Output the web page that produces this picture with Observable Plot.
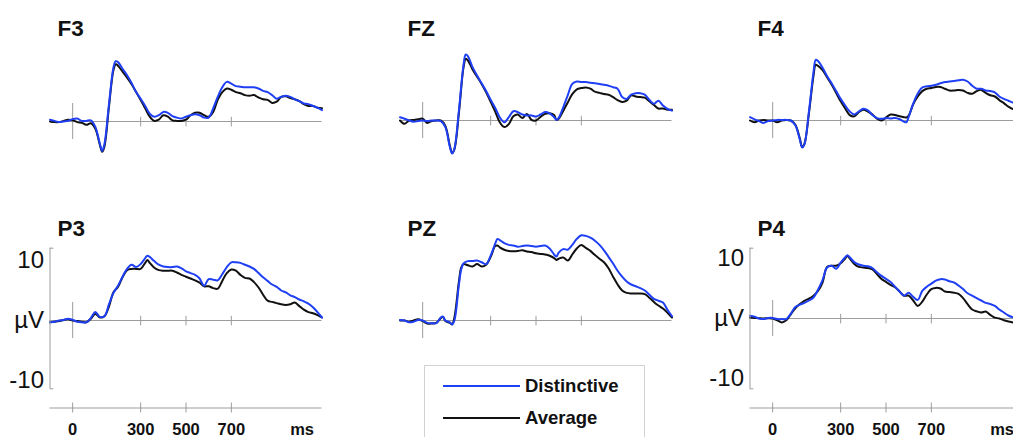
<!DOCTYPE html>
<html>
<head>
<meta charset="utf-8">
<script src="https://cdn.jsdelivr.net/npm/d3@7"></script>
<script src="https://cdn.jsdelivr.net/npm/@observablehq/plot@0.6"></script>
<style>
  html, body { margin: 0; padding: 0; background: #fff; }
  #chart { position: relative; width: 1013px; height: 437px; overflow: hidden;
           font-family: "Liberation Sans", Arial, sans-serif; }
  #chart svg { position: absolute; }
  .legend-box { position: absolute; left: 424px; top: 365px; width: 221px; height: 90px;
                border: 1px solid #d2d2d2; box-sizing: border-box; background: #fff; }
  .legend-key { position: absolute; left: 443px; width: 77px; height: 2px; }
  .legend-label { position: absolute; left: 525px; height: 22px; line-height: 22px;
                  font-size: 18.5px; font-weight: bold; color: #111; white-space: nowrap; }
</style>
</head>
<body>
<div id="chart"></div>
<script>
// Sampling grid in ms (every 20 ms), with extra samples at sharp peaks per channel
const baseTimes = [-100,-80,-60,-40,-20,0,20,40,60,80,100,120,140,160,180,200,220,240,260,280,
  300,320,340,360,380,400,420,440,460,480,500,520,540,560,580,600,620,640,660,680,700,720,740,
  760,780,800,820,840,860,880,900,920,940,960,980,1000,1020,1040,1060,1080,1100];

const channels = ["F3", "FZ", "F4", "P3", "PZ", "P4"];
const seriesNames = ["Distinctive", "Average"];

const extraTimesF3 = [130, 190];
const extraTimesFZ = [130, 190, 590];
const extraTimesF4 = [130, 190, 590];
const extraTimesP3 = [330];
const extraTimesPZ = [90, 130, 170, 330, 590];
const extraTimesP4 = [330];

// Grand-average amplitudes in µV
const distinctiveF3 = [0.3,0.1,-0.1,0,0.1,0.4,0.5,0.1,0.1,0.2,-0.9,-3.7,-4.9,-3.8,2.8,9.0,10.05,9.9,8.8,7.7,
  6.4,4.9,3.8,2.6,1.3,0.8,1.05,1.6,1.45,0.9,0.65,0.5,0.8,1.05,1.2,1.05,0.65,0.65,2.2,4.1,5.7,6.6,6.3,
  5.9,5.8,5.7,5.7,5.7,5.5,5.1,4.9,4.4,3.8,4.1,4.3,4.1,3.7,3.4,3.0,2.9,2.6,2.3,1.9];
const averageF3 = [0,-0.1,-0.1,0.1,0.3,0.2,-0.1,-0.2,-0.55,-0.3,-1.2,-3.9,-5.05,-4.2,2.4,8.6,9.55,9.3,8.3,
  7.3,6.2,4.9,3.6,2.2,0.8,0.1,0.3,1.05,0.8,0.2,0.1,0.1,0.3,1.05,1.45,1.45,1.05,0.8,1.6,3.6,4.9,5.5,5.3,
  4.9,4.7,4.4,4.3,4.4,4.0,3.7,3.6,3.1,3.3,4.1,4.2,3.9,3.7,3.4,2.9,2.6,2.6,2.3,2.2];

const distinctiveFZ = [0.55,0.3,0.0,-0.2,-0.1,0.0,-0.1,0.0,0.0,-0.1,-1.1,-4.4,-5.5,-4.7,1.7,9.2,11.0,10.7,
  8.9,7.5,6.2,4.9,3.45,2.1,0.55,-0.3,0.55,1.55,1.4,1.0,0.85,0.85,0.65,1.0,1.4,1.2,0.55,0.1,0.45,2.2,4.2,
  6.1,6.5,6.4,6.4,6.3,6.2,6.1,5.95,5.8,5.55,5.3,3.9,3.6,4.3,4.55,4.55,4.3,3.45,2.8,3.3,2.5,1.95,1.65];
const averageFZ = [0.0,-0.55,0.0,0.1,0.2,0.3,-0.4,-0.1,0.0,0.0,-0.9,-4.2,-5.4,-4.8,1.3,8.8,10.3,10.0,8.5,
  7.3,6.1,4.7,3.1,1.5,-0.3,-1.1,-0.6,0.7,1.0,0.4,1.1,0.1,0.0,0.6,1.1,1.2,0.9,0.1,0.3,1.6,3.0,4.4,5.2,
  5.4,5.5,5.3,4.8,4.6,4.4,4.3,3.9,3.4,3.1,3.3,4.2,4.0,3.9,3.8,3.2,2.6,2.0,2.0,1.8,1.8];

const distinctiveF4 = [0.55,0.2,-0.1,-0.4,-0.1,0.0,0.1,0.1,0.1,0.0,-0.8,-3.2,-4.5,-4.0,1.5,8.0,10.1,9.9,
  8.8,7.4,6.2,4.9,3.6,2.5,1.5,1.0,1.5,1.95,1.7,0.9,0.4,0.3,0.4,0.35,0.4,0.2,-0.2,-0.3,0.6,2.8,4.5,5.5,
  5.7,5.8,5.95,6.2,6.4,6.5,6.6,6.7,6.8,6.5,5.8,5.3,5.3,5.0,4.9,4.7,4.0,3.6,3.3,3.0,2.8,2.6];
const averageF4 = [0.0,-0.3,0.0,0.1,0.0,0.0,-0.3,0.0,0.1,0.0,-0.7,-3.0,-4.4,-3.9,1.2,7.4,9.3,9.1,8.4,7.2,
  6.0,4.6,3.2,2.0,0.9,0.7,1.4,1.8,1.5,1.0,0.3,0.0,0.5,1.0,0.9,0.7,0.55,0.5,0.8,2.7,4.0,4.9,5.3,5.4,5.6,
  5.6,5.3,5.0,5.0,5.1,5.0,4.6,4.45,4.9,5.1,4.6,4.2,4.0,3.4,2.9,2.3,1.9,1.9,1.9];

const distinctiveP3 = [-0.3,-0.2,0.0,0.1,0.3,0.1,-0.2,-0.3,-0.3,0.4,1.4,0.6,0.7,2.7,4.6,5.8,7.3,8.6,9.3,
  8.9,9.4,10.4,10.8,10.6,9.9,9.3,9.0,8.9,8.9,9.0,8.7,8.2,7.9,7.6,7.0,5.8,6.9,6.8,6.7,7.7,8.9,9.7,9.7,
  9.6,9.3,9.0,8.6,7.9,7.2,6.6,6.0,5.6,5.0,4.7,4.2,3.9,3.5,3.2,2.8,2.2,1.4,0.5];
const averageP3 = [-0.3,-0.2,-0.1,0.1,0.2,0.0,-0.1,-0.2,-0.3,0.3,1.1,0.5,0.7,2.3,4.7,5.6,7.2,8.4,8.6,8.6,
  8.6,9.6,10.1,9.6,8.8,8.4,8.3,8.3,8.3,8.0,7.6,7.3,7.0,6.7,6.3,5.7,5.7,5.4,5.3,6.6,7.9,8.5,8.3,7.6,7.1,
  7.0,6.4,5.5,4.3,3.3,3.1,2.9,2.7,2.6,2.7,3.0,2.4,1.8,1.4,1.2,0.9,0.5];

const distinctivePZ = [0.1,0.0,-0.3,-0.2,0.1,0.0,-0.4,-0.45,-0.45,0.5,0.65,0.0,-0.3,-0.65,0.0,6.0,8.5,9.5,
  9.9,9.9,10.0,9.7,9.4,10.8,12.8,13.6,13.4,12.9,12.6,12.5,12.3,12.4,12.5,12.4,12.3,12.4,12.5,12.0,11.0,
  10.65,11.3,11.9,11.8,12.6,13.6,14.2,14.1,13.8,13.3,12.6,11.7,10.6,9.5,8.3,7.3,6.5,6.0,5.7,5.4,5.0,
  4.3,3.6,3.3,3.0,1.8,0.7];
const averagePZ = [0.0,0.0,-0.2,0.0,0.2,-0.1,-0.5,-0.5,-0.4,0.4,0.6,-0.1,-0.4,-0.65,0.5,6.5,8.8,9.4,9.2,
  9.0,9.4,9.0,9.3,10.6,12.4,12.5,12.2,11.8,11.6,11.55,11.6,11.7,11.5,11.4,11.2,11.1,11.0,10.8,10.4,10.1,
  10.3,10.5,10.0,11.0,12.0,12.6,12.1,11.6,10.9,10.3,9.7,8.7,7.3,6.0,5.0,4.6,4.5,4.5,4.5,4.4,3.8,3.1,
  2.5,2.0,1.3,0.5];

const distinctiveP4 = [0.45,0.3,0.0,-0.1,0.1,0.1,-0.1,-0.1,-0.1,0.8,1.9,2.3,2.6,3.0,3.5,4.8,6.4,8.5,8.8,
  8.3,9.3,10.2,10.55,10.2,9.4,9.0,8.8,8.7,8.4,7.7,7.1,6.6,6.1,5.3,4.5,3.8,4.3,3.6,3.1,4.6,5.3,5.8,6.3,
  6.55,6.5,6.2,6.0,5.5,4.9,4.2,3.8,3.4,3.0,2.6,2.4,2.1,1.5,1.0,0.5,0.2,0.0,-0.1];
const averageP4 = [0.15,0.1,0.05,0.0,0.05,0.0,-0.3,-0.65,-0.3,0.7,1.7,2.4,2.95,3.3,3.8,4.6,6.0,8.6,8.8,8.8,
  9.2,10.0,10.45,10.0,9.1,8.6,8.5,8.4,8.2,7.4,6.6,6.1,5.6,5.2,4.5,3.8,3.8,3.0,2.1,2.8,4.0,4.9,5.1,5.0,
  4.5,4.4,4.3,4.1,3.4,2.4,1.5,1.2,1.0,1.15,0.6,0.15,0.0,-0.3,-0.5,-0.65,-0.7,-0.7];

// Axis labelling
const timeTicks = [300, 500, 700];
const xTickTimes = [0, 300, 500, 700, 1012];
const xTickLabels = ["0", "300", "500", "700", "ms"];
const yTickValues = [10, 0, -10];
const yTickLabels = ["10", "µV", "-10"];

const COLORS = { Distinctive: "#1f3ff5", Average: "#111111" };
const GRAY = "#9c9c9c";
const FONT = "'Liberation Sans', Arial, sans-serif";

const channelData = {
  F3: { extra: extraTimesF3, Distinctive: distinctiveF3, Average: averageF3 },
  FZ: { extra: extraTimesFZ, Distinctive: distinctiveFZ, Average: averageFZ },
  F4: { extra: extraTimesF4, Distinctive: distinctiveF4, Average: averageF4 },
  P3: { extra: extraTimesP3, Distinctive: distinctiveP3, Average: averageP3 },
  PZ: { extra: extraTimesPZ, Distinctive: distinctivePZ, Average: averagePZ },
  P4: { extra: extraTimesP4, Distinctive: distinctiveP4, Average: averageP4 }
};

// Panel grid: 3 columns x 2 rows; zero = pixel row of 0 µV inside its panel
const panelLayout = {
  F3: { col: 0, row: 0, zero: 121, axes: false },
  FZ: { col: 1, row: 0, zero: 120, axes: false },
  F4: { col: 2, row: 0, zero: 120, axes: false },
  P3: { col: 0, row: 1, zero: 120, axes: true },
  PZ: { col: 1, row: 1, zero: 120, axes: false },
  P4: { col: 2, row: 1, zero: 118, axes: true }
};
const PANEL_W = 350, ROW_TOP = [0, 200], ROW_H = [200, 237], PX_PER_UV = 6;

function records(name) {
  const d = channelData[name];
  const times = [...baseTimes, ...d.extra].sort((a, b) => a - b);
  const out = {};
  for (const s of seriesNames) {
    if (d[s].length !== times.length) throw new Error(`${name} ${s}: ${d[s].length} values, ${times.length} times`);
    out[s] = times.map((t, i) => ({ t, v: d[s][i], series: s }));
  }
  return out;
}

function panel(name) {
  const L = panelLayout[name];
  const h = ROW_H[L.row];
  const uv = px => (L.zero - px) / PX_PER_UV; // pixel row -> µV for fixed decorations
  const data = records(name);
  const marks = [
    Plot.ruleY([0], { stroke: GRAY, strokeWidth: 1 }),
    Plot.ruleX([0], { y1: 3, y2: -3, stroke: GRAY, strokeWidth: 1 }),
    Plot.ruleX(timeTicks, { y1: 0.7, y2: -0.9, stroke: GRAY, strokeWidth: 1 }),
    Plot.line(data.Average, { x: "t", y: "v", stroke: COLORS.Average, strokeWidth: 2, curve: "catmull-rom" }),
    Plot.line(data.Distinctive, { x: "t", y: "v", stroke: COLORS.Distinctive, strokeWidth: 2, curve: "catmull-rom" }),
    Plot.text([name], { frameAnchor: "top-left", dx: 7.5, dy: 35, lineAnchor: "bottom", textAnchor: "start",
      fontSize: 22.5, fontWeight: "bold", fill: "#111", fontFamily: FONT })
  ];
  if (L.axes) {
    marks.push(
      // amplitude axis with bracket ends
      Plot.ruleX([-100], { y1: uv(47.7), y2: uv(188.3), stroke: GRAY, strokeWidth: 1 }),
      Plot.ruleY([uv(47.7), uv(188.3)], { x1: -100, x2: -83, stroke: GRAY, strokeWidth: 1 }),
      Plot.text(yTickValues, { x: -100, y: d => d, text: (d, i) => yTickLabels[i], dx: -6,
        textAnchor: "end", lineAnchor: "middle", fontSize: 24, fill: "#111", fontFamily: FONT }),
      // time axis below the panel
      Plot.ruleY([uv(207.5)], { stroke: GRAY, strokeWidth: 1 }),
      Plot.ruleX([0, ...timeTicks], { y1: uv(202.5), y2: uv(212.5), stroke: GRAY, strokeWidth: 1 }),
      Plot.text(xTickTimes, { x: d => d, y: uv(229.5), text: (d, i) => xTickLabels[i], lineAnchor: "middle",
        fontSize: 16.5, fontWeight: "bold", fill: "#111", fontFamily: FONT })
    );
  }
  const svg = Plot.plot({
    width: PANEL_W, height: h,
    marginLeft: 49.5, marginRight: 28.5, marginTop: 0, marginBottom: 0,
    x: { domain: [-100, 1100], axis: null },
    y: { domain: [-10, 10], range: [L.zero + 10 * PX_PER_UV, L.zero - 10 * PX_PER_UV], axis: null },
    style: { background: "transparent", overflow: "visible", fontFamily: FONT },
    marks
  });
  svg.style.left = `${L.col * PANEL_W}px`;
  svg.style.top = `${ROW_TOP[L.row]}px`;
  svg.style.maxWidth = "none";
  return svg;
}

const chart = document.getElementById("chart");
for (const name of channels) chart.appendChild(panel(name));

// Legend for the two conditions
const box = document.createElement("div");
box.className = "legend-box";
chart.appendChild(box);
const legendRows = [{ s: "Distinctive", y: 386 }, { s: "Average", y: 418 }];
for (const { s, y } of legendRows) {
  const key = document.createElement("div");
  key.className = "legend-key";
  key.style.top = `${y - 1}px`;
  key.style.background = COLORS[s];
  chart.appendChild(key);
  const label = document.createElement("div");
  label.className = "legend-label";
  label.style.top = `${y - 11}px`;
  label.textContent = s;
  chart.appendChild(label);
}
</script>
</body>
</html>
